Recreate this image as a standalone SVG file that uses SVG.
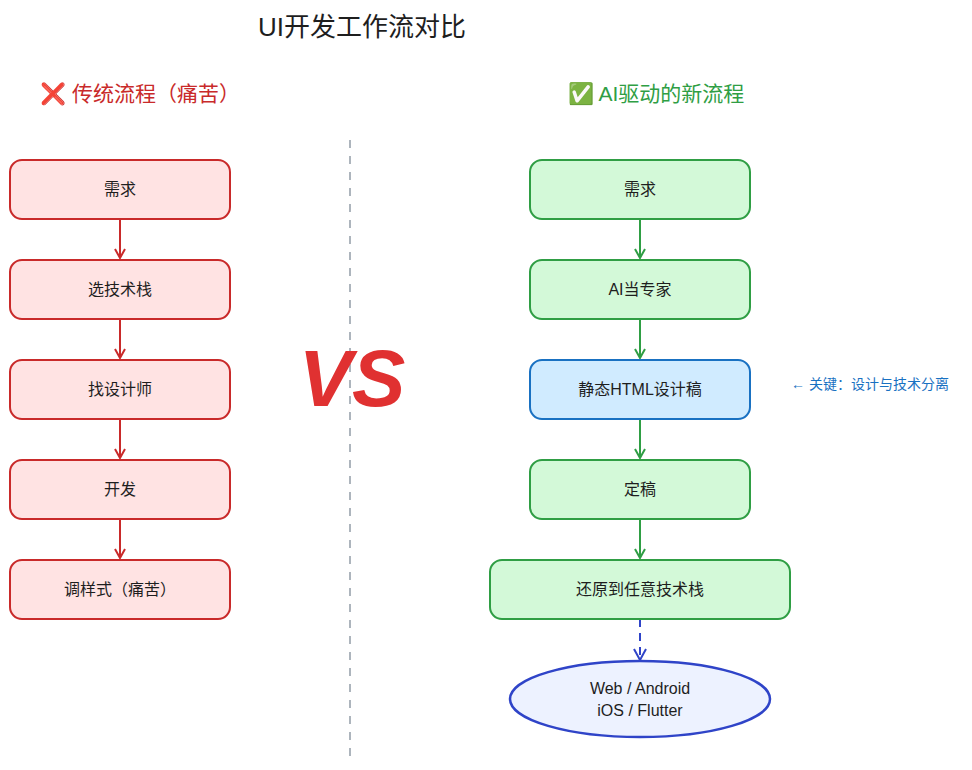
<svg xmlns="http://www.w3.org/2000/svg" width="972" height="770" viewBox="0 0 972 770">
<defs>
<style>
text{font-family:"Liberation Sans","Noto Sans CJK SC",sans-serif;text-anchor:middle;dominant-baseline:central}
.t{font-size:16px;fill:#1e1e1e}
.red rect{fill:#ffe3e3;stroke:#c92a2a;stroke-width:2}
.grn rect{fill:#d3f9d8;stroke:#2f9e44;stroke-width:2}
.blu rect{fill:#d0ebff;stroke:#1971c2;stroke-width:2}
.cr{stroke:#c92a2a;stroke-width:2;fill:none}
.cg{stroke:#2f9e44;stroke-width:2;fill:none}
</style>
<marker id="ar" markerWidth="12" markerHeight="12" refX="10" refY="6" orient="auto" markerUnits="userSpaceOnUse"><path d="M1,1 L10,6 L1,11" fill="none" stroke="#c92a2a" stroke-width="2"/></marker>
<marker id="ag" markerWidth="12" markerHeight="12" refX="10" refY="6" orient="auto" markerUnits="userSpaceOnUse"><path d="M1,1 L10,6 L1,11" fill="none" stroke="#2f9e44" stroke-width="2"/></marker>
<marker id="ab" markerWidth="14" markerHeight="14" refX="12" refY="7" orient="auto" markerUnits="userSpaceOnUse"><path d="M1,1 L12,7 L1,13" fill="none" stroke="#2f44c8" stroke-width="2"/></marker>
</defs>
<rect width="972" height="770" fill="#fff"/>
<text x="362" y="27" style="font-size:26px;fill:#1e1e1e">UI开发工作流对比</text>
<text x="140" y="93" style="font-size:21px;fill:#c92a2a">❌ 传统流程（痛苦）</text>
<text x="656" y="93" style="font-size:21px;fill:#2f9e44">✅ AI驱动的新流程</text>
<line x1="350" y1="140" x2="350" y2="760" stroke="#adb5bd" stroke-width="2" stroke-dasharray="8 8"/>
<text x="352" y="378" style="font-size:80px;font-weight:bold;fill:#e03131;font-style:italic">VS</text>
<text x="870" y="384" style="font-size:14px;fill:#1971c2">← 关键：设计与技术分离</text>
<g id="connectors">
<path class="cr" d="M120 219V258" marker-end="url(#ar)"/>
<path class="cr" d="M120 319V358" marker-end="url(#ar)"/>
<path class="cr" d="M120 419V458" marker-end="url(#ar)"/>
<path class="cr" d="M120 519V558" marker-end="url(#ar)"/>
<path class="cg" d="M640 219V258" marker-end="url(#ag)"/>
<path class="cg" d="M640 319V358" marker-end="url(#ag)"/>
<path class="cg" d="M640 419V458" marker-end="url(#ag)"/>
<path class="cg" d="M640 519V558" marker-end="url(#ag)"/>
<path d="M640 619V660" stroke="#2f44c8" stroke-width="2" fill="none" stroke-dasharray="8 6" marker-end="url(#ab)"/>
</g>
<g id="l1" class="red"><rect x="10" y="160" width="220" height="59" rx="12"/><text class="t" x="120" y="189">需求</text></g>
<g id="l2" class="red"><rect x="10" y="260" width="220" height="59" rx="12"/><text class="t" x="120" y="289">选技术栈</text></g>
<g id="l3" class="red"><rect x="10" y="360" width="220" height="59" rx="12"/><text class="t" x="120" y="389">找设计师</text></g>
<g id="l4" class="red"><rect x="10" y="460" width="220" height="59" rx="12"/><text class="t" x="120" y="489">开发</text></g>
<g id="l5" class="red"><rect x="10" y="560" width="220" height="59" rx="12"/><text class="t" x="120" y="589">调样式（痛苦）</text></g>
<g id="r1" class="grn"><rect x="530" y="160" width="220" height="59" rx="12"/><text class="t" x="640" y="189">需求</text></g>
<g id="r2" class="grn"><rect x="530" y="260" width="220" height="59" rx="12"/><text class="t" x="640" y="289">AI当专家</text></g>
<g id="r3" class="blu"><rect x="530" y="360" width="220" height="59" rx="12"/><text class="t" x="640" y="389">静态HTML设计稿</text></g>
<g id="r4" class="grn"><rect x="530" y="460" width="220" height="59" rx="12"/><text class="t" x="640" y="489">定稿</text></g>
<g id="r5" class="grn"><rect x="490" y="560" width="300" height="59" rx="12"/><text class="t" x="640" y="589">还原到任意技术栈</text></g>
<g id="r6"><ellipse cx="640" cy="699" rx="130" ry="38" fill="#edf2ff" stroke="#2f44c8" stroke-width="2.5"/><text class="t" x="640" y="688">Web / Android</text><text class="t" x="640" y="710">iOS / Flutter</text></g>
</svg>
